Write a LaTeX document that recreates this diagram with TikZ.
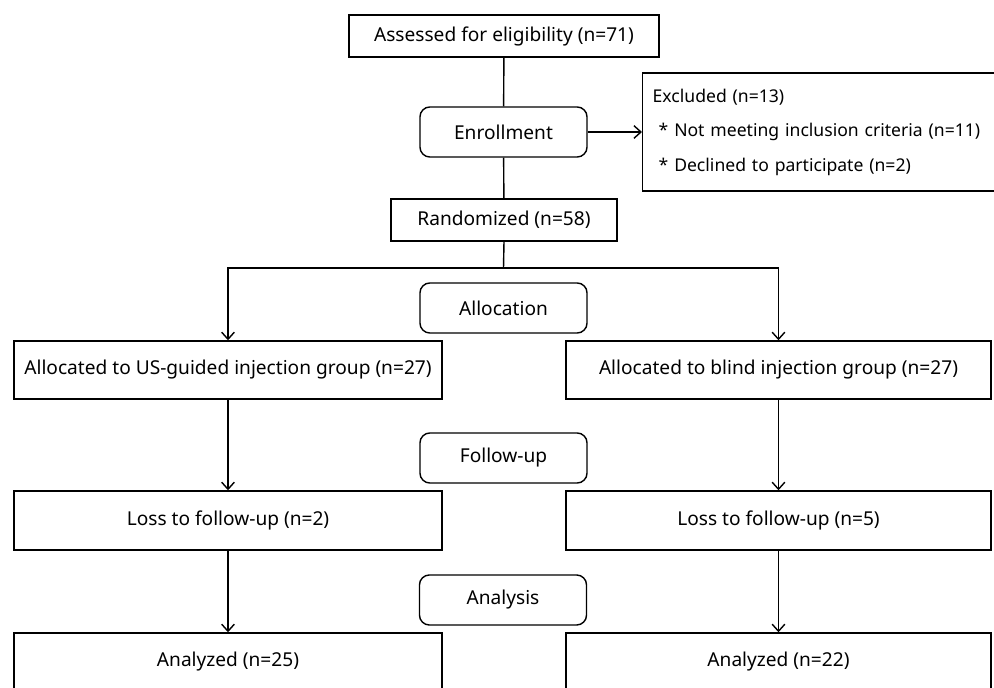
\documentclass[tikz,border=0pt]{standalone}
\usepackage{fontspec}
\setmainfont{Noto Sans}
\usetikzlibrary{arrows.meta}
\tikzset{
	box/.style = {draw, line width = 1pt, inner sep = 0pt, font = \fontsize{13.6}{15}\selectfont},
	phase/.style = {box, rounded corners = 7pt, minimum width = 4.175cm, minimum height = 1.25cm},
	arr/.style = {-{Straight Barb[length = 5pt, width = 9pt]}, line width = 1pt}
}
\begin{document}
\begin{tikzpicture}[x = 0.025cm, y = -0.025cm]
	\useasboundingbox (0, 0) rectangle (994, 688);
	\clip (0, 0) rectangle (994, 688);
	% enrollment
	\node [box, minimum width = 7.75cm, minimum height = 1.05cm] (assess) at (504, 36) {Assessed for eligibility (n=71)};
	\node [phase] (enrol) at (503.5, 132) {Enrollment};
	\node [box, anchor = west, minimum width = 9.25cm, minimum height = 2.95cm, align = left, text width = 8.975cm, inner xsep = 0.25cm, font = \fontsize{12.5}{24.5}\selectfont] (excl) at (642, 132) {Excluded (n=13)\\\hspace{0.15cm}* Not meeting inclusion criteria (n=11)\\\hspace{0.15cm}* Declined to participate (n=2)};
	\node [box, minimum width = 5.65cm, minimum height = 1.05cm] (rand) at (504, 220) {Randomized (n=58)};
	\coordinate (split) at (503.5, 268);
	% allocation
	\node [phase] (alloc) at (503.5, 308) {Allocation};
	\node [box, minimum width = 10.7cm, minimum height = 1.45cm] (grpA) at (228, 370) {Allocated to US-guided injection group (n=27)};
	\node [box, minimum width = 10.625cm, minimum height = 1.45cm] (grpB) at (778.5, 370) {Allocated to blind injection group (n=27)};
	% follow-up
	\node [phase] (follow) at (503.5, 458) {Follow-up};
	\node [box, minimum width = 10.7cm, minimum height = 1.475cm] (lossA) at (228, 520.5) {Loss to follow-up (n=2)};
	\node [box, minimum width = 10.625cm, minimum height = 1.475cm] (lossB) at (778.5, 520.5) {Loss to follow-up (n=5)};
	% analysis
	\node [phase] (analysis) at (503, 600) {Analysis};
	\node [box, minimum width = 10.7cm, minimum height = 1.45cm] (anA) at (228, 662) {Analyzed (n=25)};
	\node [box, minimum width = 10.625cm, minimum height = 1.45cm] (anB) at (778.5, 662) {Analyzed (n=22)};

	\draw [line width = 1pt] (assess) -- (enrol);
	\draw [line width = 1pt] (enrol) -- (rand);
	\draw [arr] (enrol.east) -- (excl.west);
	\draw [line width = 1pt] (rand.south) -- (split);
	\draw [arr] (split) -| (grpA.north);
	\draw [arr] (split) -| (grpB.north);
	\draw [arr] (grpA) -- (lossA);
	\draw [arr] (grpB) -- (lossB);
	\draw [arr] (lossA) -- (anA);
	\draw [arr] (lossB) -- (anB);
\end{tikzpicture}
\end{document}
